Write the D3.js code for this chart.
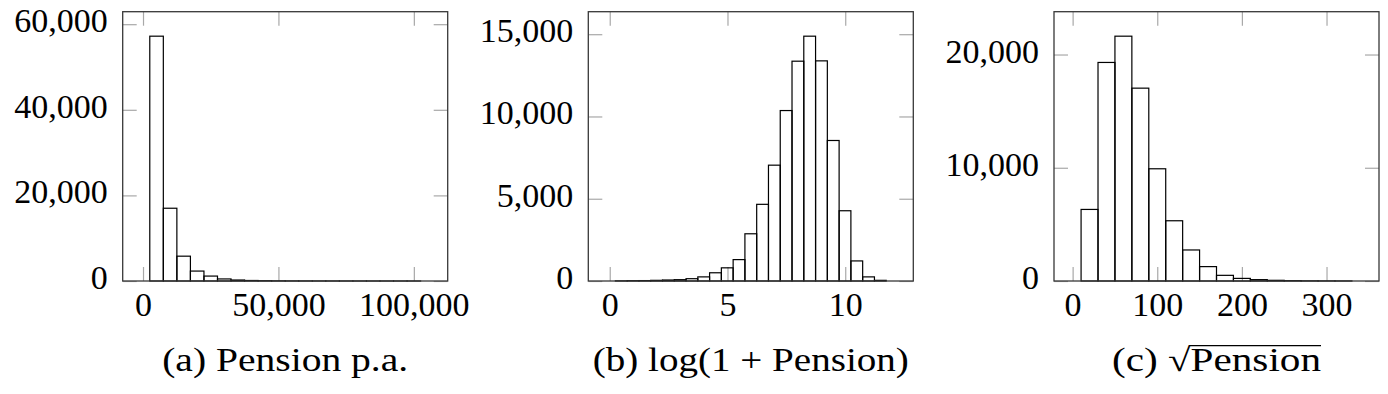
<!DOCTYPE html>
<html>
<head>
<meta charset="utf-8">
<script src="https://cdn.jsdelivr.net/npm/d3@7"></script>
<style>
  body { margin: 0; background: #fff; }
  text { font-family: "Liberation Serif", serif; fill: #000; }
</style>
</head>
<body>
<div id="chart"></div>
<script>
// ---------- data ----------
// (a) pension p.a.: 20 bins of 5,000 starting at 2,500
const pensionStart = 2500, pensionWidth = 5000;
const pensionCounts = [57200, 17000, 5800, 2320, 1150, 480, 230, 120, 70, 40,
                       25, 15, 10, 8, 5, 4, 3, 2, 1, 1];
// (b) log(1 + pension): 23 bins of 0.5 starting at 0.24
const logStart = 0.24, logWidth = 0.5;
const logCounts = [10, 20, 25, 40, 60, 80, 140, 250, 500, 800, 1300, 2870,
                   4660, 7040, 10360, 13360, 14880, 13380, 8540, 4270, 1220, 250, 40];
// (c) sqrt(pension): 16 bins of 20 starting at 10
const sqrtStart = 10, sqrtWidth = 20;
const sqrtCounts = [6320, 19300, 21620, 17030, 9910, 5320, 2740, 1270, 500, 230,
                    120, 60, 30, 15, 10, 5];

const xTicksA = [0, 50000, 100000], yTicksA = [0, 20000, 40000, 60000];
const xTicksB = [0, 5, 10],         yTicksB = [0, 5000, 10000, 15000];
const xTicksC = [0, 100, 200, 300], yTicksC = [0, 10000, 20000];

const captions = ["(a) Pension p.a.", "(b) log(1 + Pension)", "(c) \u221APension"];

// ---------- layout ----------
const W = 1388, H = 394;
const pw = 325, ph = 269.3, plotTop = 11.7;
const lefts = [122.7, 588.3, 1054];
const capWidths = [246, 316, 209];
const capY = 370.7;
const fmt = d3.format(",");

const svg = d3.select("#chart").append("svg")
  .attr("width", W)
  .attr("height", H);

function drawPanel(i, start, width, counts, xt, yt) {
  const bins = counts.map((c, k) => ({ x0: start + k * width, x1: start + (k + 1) * width, c }));
  const lo = start, hi = start + counts.length * width, r = hi - lo;
  const x = d3.scaleLinear().domain([lo - 0.1 * r, hi + 0.1 * r]).range([0, pw]);
  const y = d3.scaleLinear().domain([0, d3.max(counts) * 1.1]).range([ph, 0]);

  const g = svg.append("g").attr("transform", `translate(${lefts[i]},${plotTop})`);

  // ticks on all four sides, pointing inwards
  const bottomAx = g.append("g").attr("transform", `translate(0,${ph})`)
    .call(d3.axisBottom(x).tickValues(xt).tickSize(-14).tickPadding(11).tickFormat(fmt));
  const leftAx = g.append("g")
    .call(d3.axisLeft(y).tickValues(yt).tickSize(-14).tickPadding(15).tickFormat(fmt));
  const topAx = g.append("g")
    .call(d3.axisTop(x).tickValues(xt).tickSize(-14).tickFormat(() => ""));
  const rightAx = g.append("g").attr("transform", `translate(${pw},0)`)
    .call(d3.axisRight(y).tickValues(yt).tickSize(-14).tickFormat(() => ""));

  [bottomAx, leftAx, topAx, rightAx].forEach(a => {
    a.attr("font-family", "Liberation Serif");
    a.select(".domain").remove();
    a.selectAll("line").attr("stroke", "#a8a8a8").attr("stroke-width", 1.2);
    a.selectAll("text").attr("font-size", 34).attr("font-family", "Liberation Serif").attr("fill", "#000");
  });
  leftAx.selectAll("text").attr("dy", "0.22em");

  // histogram bars
  g.selectAll("rect.bar")
    .data(bins)
    .enter()
    .append("rect")
    .attr("class", "bar")
    .attr("x", d => x(d.x0))
    .attr("y", d => y(d.c))
    .attr("width", d => x(d.x1) - x(d.x0))
    .attr("height", d => y(0) - y(d.c))
    .attr("fill", "none")
    .attr("stroke", "#000")
    .attr("stroke-width", 1.2);

  // frame
  g.append("rect")
    .attr("width", pw).attr("height", ph)
    .attr("fill", "none")
    .attr("stroke", "#383838")
    .attr("stroke-width", 1.3);

  // caption
  const cap = svg.append("text")
    .attr("x", lefts[i] + pw / 2)
    .attr("y", capY)
    .attr("text-anchor", "middle")
    .attr("font-family", "Liberation Serif")
    .attr("font-size", 33)
    .attr("textLength", capWidths[i])
    .attr("lengthAdjust", "spacingAndGlyphs")
    .text(captions[i]);
  return cap;
}

drawPanel(0, pensionStart, pensionWidth, pensionCounts, xTicksA, yTicksA);
drawPanel(1, logStart, logWidth, logCounts, xTicksB, yTicksB);
const capC = drawPanel(2, sqrtStart, sqrtWidth, sqrtCounts, xTicksC, yTicksC);

// overline of the square root
const node = capC.node();
const n = captions[2].length;
const xs = node.getStartPositionOfChar(5).x;
const xe = node.getEndPositionOfChar(n - 1).x;
svg.append("line")
  .attr("x1", xs - 1).attr("x2", xe)
  .attr("y1", capY - 25).attr("y2", capY - 25)
  .attr("stroke", "#000").attr("stroke-width", 1.3);
</script>
</body>
</html>
